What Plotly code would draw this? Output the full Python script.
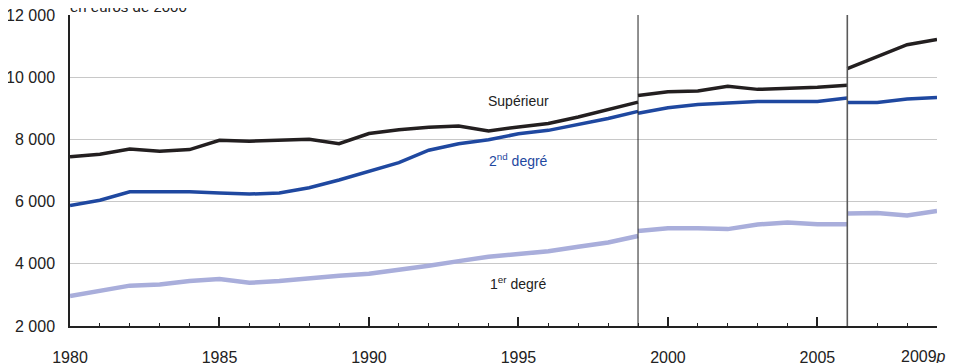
import plotly.graph_objects as go

# Years for each series segment (series breaks in 1999 and 2006)
years_a = list(range(1980, 2000))
years_b = list(range(1999, 2007))
years_c = list(range(2006, 2010))

# Supérieur
sup_a = [7450, 7530, 7700, 7630, 7680, 7980, 7950, 7980, 8010, 7870,
         8200, 8320, 8400, 8440, 8280, 8410, 8520, 8730, 8970, 9210]
sup_b = [9420, 9540, 9570, 9720, 9620, 9650, 9690, 9750]
sup_c = [10290, 10680, 11060, 11230]

# 2nd degré
sec_a = [5880, 6050, 6320, 6320, 6320, 6280, 6250, 6280, 6450, 6700,
         6990, 7260, 7660, 7870, 8000, 8190, 8300, 8490, 8680, 8910]
sec_b = [8850, 9030, 9130, 9190, 9230, 9230, 9230, 9340]
sec_c = [9200, 9200, 9310, 9360]

# 1er degré
pri_a = [2965, 3135, 3300, 3340, 3450, 3510, 3390, 3450, 3550, 3620,
         3680, 3800, 3940, 4090, 4230, 4315, 4410, 4550, 4690, 4900]
pri_b = [5060, 5150, 5150, 5120, 5270, 5330, 5280, 5280]
pri_c = [5620, 5640, 5560, 5700]

break_years = [1999, 2006]
tick_years = [1980, 1985, 1990, 1995, 2000, 2005]
tick_labels = ["1980", "1985", "1990", "1995", "2000", "2005"]
last_year_label = "2009<i>p</i>"
y_ticks = [2000, 4000, 6000, 8000, 10000, 12000]
y_tick_labels = ["2 000", "4 000", "6 000", "8 000", "10 000", "12 000"]

FONT = "Liberation Sans, Arial, sans-serif"
C_SUP = "#231f20"
C_SEC = "#1f48a0"
C_PRI = "#a9aedb"


def joined(xa, ya, xb, yb, xc, yc):
    return (xa + [None] + xb + [None] + xc, ya + [None] + yb + [None] + yc)


fig = go.Figure()
for (ya, yb, yc, col, w, name) in [
    (pri_a, pri_b, pri_c, C_PRI, 4.5, "1er degré"),
    (sec_a, sec_b, sec_c, C_SEC, 3.5, "2nd degré"),
    (sup_a, sup_b, sup_c, C_SUP, 3.5, "Supérieur"),
]:
    x, y = joined(years_a, ya, years_b, yb, years_c, yc)
    fig.add_trace(go.Scatter(x=x, y=y, mode="lines", name=name,
                             line=dict(color=col, width=w), connectgaps=False,
                             showlegend=False))

# Series-break vertical lines
for i, bx in enumerate(break_years):
    fig.add_shape(type="line", xref="x", yref="paper", x0=bx, x1=bx, y0=0, y1=1,
                  line=dict(color="#222222" if i == 0 else "#5a5a5a",
                            width=1 if i == 0 else 1.6))

# The page body adds an 8px offset, so the figure is sized 949x355
fig.update_layout(
    width=949, height=355,
    margin=dict(l=62, r=20, t=7, b=37, autoexpand=False),
    paper_bgcolor="white", plot_bgcolor="white",
    font=dict(family=FONT, size=15, color="#222222"),
    xaxis=dict(range=[1980, 2009], tickvals=tick_years, ticktext=tick_labels,
               ticks="inside", ticklen=9, tickwidth=1.5, tickcolor="#222222",
               showline=True, linecolor="#222222", linewidth=1.5,
               showgrid=False, zeroline=False, automargin=False,
               minor=dict(dtick=1, tick0=1980, ticks="inside", ticklen=3,
                          tickwidth=1.3, tickcolor="#222222", showgrid=False),
               tickfont=dict(size=16), ticklabelstandoff=16,
               ticklabeloverflow="allow"),
    yaxis=dict(range=[2000, 12015], tickvals=y_ticks, ticktext=y_tick_labels,
               showline=True, linecolor="#222222", linewidth=1.5,
               showgrid=True, gridcolor="#c8c8c8", gridwidth=1,
               zeroline=False, ticks="", tickfont=dict(size=16),
               ticklabelstandoff=10, automargin=False,
               ticklabeloverflow="allow"),
)

fig.add_annotation(x=2009, y=0, xref="x", yref="paper", yshift=-20,
                   text=last_year_label, showarrow=False, xanchor="right",
                   yanchor="top", xshift=11, font=dict(size=16))
fig.add_annotation(x=0, y=1.0, xref="paper", yref="paper", yshift=-2,
                   text="en euros de 2000", showarrow=False,
                   xanchor="left", yanchor="bottom", xshift=-2,
                   font=dict(size=15))
fig.add_annotation(x=1995, y=9260, text="Supérieur", showarrow=False,
                   font=dict(size=14, color="#222222"))
fig.add_annotation(x=1995, y=7340, text="2<sup>nd</sup> degré", showarrow=False,
                   font=dict(size=14, color=C_SEC))
fig.add_annotation(x=1995, y=3400, text="1<sup>er</sup> degré", showarrow=False,
                   font=dict(size=14, color="#222222"))

fig.write_html("out.html")
